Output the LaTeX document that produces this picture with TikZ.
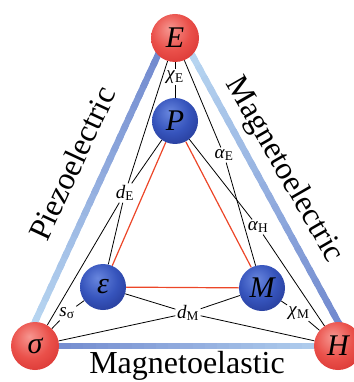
\documentclass[tikz,border=0pt]{standalone}
\usepackage{fontspec}
\setmainfont{Liberation Serif}
\usetikzlibrary{calc,backgrounds}

\definecolor{redlight}{RGB}{246,150,144}
\definecolor{redmid}{RGB}{234,80,74}
\definecolor{reddark}{RGB}{206,36,36}
\definecolor{bluelight}{RGB}{104,134,222}
\definecolor{bluemid}{RGB}{54,84,188}
\definecolor{bluedark}{RGB}{26,40,124}
\definecolor{barlight}{RGB}{182,212,240}
\definecolor{bardark}{RGB}{112,136,206}
\definecolor{linkred}{RGB}{236,70,40}

\pgfdeclareradialshading{redball}{\pgfpoint{-6bp}{10bp}}{%
  color(0bp)=(redlight); color(20bp)=(redmid); color(46bp)=(reddark); color(70bp)=(reddark)}
\pgfdeclareradialshading{blueball}{\pgfpoint{-6bp}{10bp}}{%
  color(0bp)=(bluelight); color(20bp)=(bluemid); color(46bp)=(bluedark); color(70bp)=(bluedark)}

\tikzset{
  field/.style={circle, minimum size=48pt, inner sep=0pt, shade, shading=redball,
    font=\fontsize{30}{30}\selectfont\itshape},
  order/.style={circle, minimum size=46pt, inner sep=0pt, shade, shading=blueball,
    font=\fontsize{30}{30}\selectfont\itshape},
  coef/.style={inner sep=1.5pt, font=\fontsize{19}{19}\selectfont},
  effect/.style={font=\fontsize{32}{32}\selectfont, anchor=base},
  link/.style={black, line width=0.8pt},
  inner link/.style={linkred, line width=1.2pt},
  bar/.style={line width=6.5pt}
}

\begin{document}
\begin{tikzpicture}[x=1pt,y=-1pt]
  \useasboundingbox (0,0) rectangle (353,382);

  % Fields (outer triangle)
  \node[field] (E) at (175,38) {E};
  \node[field] (sigma) at (35,346) {σ};
  \node[field] (H) at (338,346) {H};

  % Order parameters (inner triangle)
  \node[order] (P) at (175,121) {P};
  \node[order] (eps) at (103,287) {ε};
  \node[order] (M) at (262,288) {M};

  % Coupling coefficients
  \node[coef] (chiE) at (175,77) {\textit{χ}\textsubscript{E}};
  \node[coef] (dE) at (125,193) {\textit{d}\textsubscript{E}};
  \node[coef] (alphaE) at (224,155) {\textit{α}\textsubscript{E}};
  \node[coef] (alphaH) at (258,227) {\textit{α}\textsubscript{H}};
  \node[coef] (ssig) at (67,313) {\textit{s}\textsubscript{σ}};
  \node[coef] (dM) at (188,313) {\textit{d}\textsubscript{M}};
  \node[coef] (chiM) at (299,313) {\textit{χ}\textsubscript{M}};

  % Effects
  \node[effect, rotate=65] (piezo) at (82,168) {Piezoelectric};
  \node[effect, rotate=-60] (magel) at (277,174) {Magnetoelectric};
  \node[effect] (magst) at (187,373) {Magnetoelastic};

  \begin{pgfonlayer}{background}
    % Thick shaded sides
    \foreach \a/\b/\ca/\cb in {sigma.north/E.225/barlight/bardark,
        E.-45/H.north/barlight/bardark, sigma.center/H.center/bardark/barlight}{
      \foreach \i in {-1,...,25}{
        \pgfmathtruncatemacro\pc{max(0,min(100,4*\i))}
        \draw[bar, \cb!\pc!\ca] ($(\a)!\i/25!(\b)$) -- ($(\a)!{(\i+1.5)/25}!(\b)$);
      }
    }

    % Inner triangle
    \draw[inner link] (P) -- (eps) (eps) -- (M) (M) -- (P);

    % Couplings
    \draw[link] (E) -- (chiE) (chiE) -- (P);
    \draw[link] (E) -- (dE) (dE) -- (eps);
    \draw[link] (sigma) -- (dE) (dE) -- (P);
    \draw[link] (E) -- (alphaE) (alphaE) -- (M);
    \draw[link] (P) -- (alphaH) (alphaH) -- (H);
    \draw[link] (sigma) -- (ssig) (ssig) -- (eps);
    \draw[link] (sigma) -- (dM) (dM) -- (M);
    \draw[link] (eps) -- (dM) (dM) -- (H);
    \draw[link] (M) -- (chiM) (chiM) -- (H);
  \end{pgfonlayer}

\end{tikzpicture}
\end{document}
